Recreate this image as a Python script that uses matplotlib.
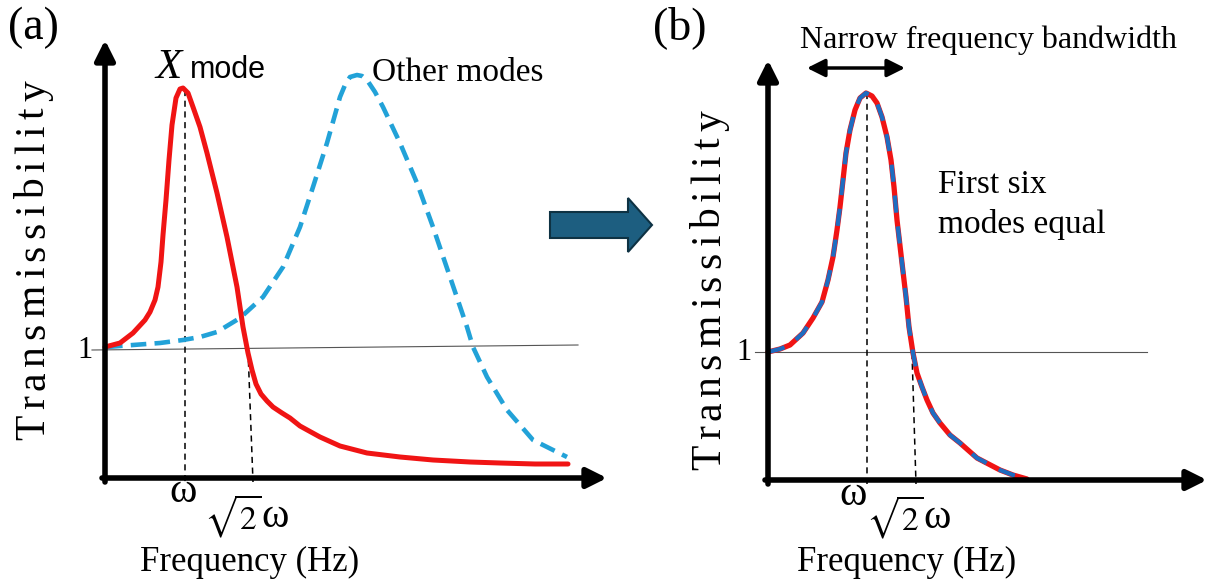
import numpy as np
import matplotlib.pyplot as plt
from matplotlib.patches import FancyArrow
from matplotlib.font_manager import FontProperties
from matplotlib.textpath import TextToPath

plt.rcParams['font.family'] = 'Liberation Serif'
plt.rcParams['mathtext.fontset'] = 'stix'

# panel (a): response of the single X mode and of the other modes
xa_mode = [105, 120, 133, 145, 150, 155, 158, 161, 163, 166, 169, 172, 176, 180, 183, 188,
           193, 200, 207, 217, 227, 237, 243, 248, 252, 256, 261, 267, 273, 282, 290, 300,
           320, 340, 367, 400, 433, 470, 500, 535, 568]
ya_mode = [347, 343, 333, 320, 312, 300, 287, 262, 235, 200, 160, 125, 98, 89, 88, 93,
           107, 127, 153, 193, 237, 287, 327, 353, 370, 384, 394, 401, 407, 413, 418, 426,
           437, 446, 453, 457, 460, 462, 463, 464, 464]

xa_other = [107, 133, 160, 183, 200, 217, 240, 263, 283, 300, 313, 327, 340, 345, 350, 357,
            362, 367, 375, 383, 400, 417, 433, 450, 467, 473, 487, 507, 533, 567]
ya_other = [347, 345, 343, 340, 337, 332, 318, 297, 267, 227, 187, 143, 97, 85, 77, 75,
            76, 80, 92, 107, 143, 183, 227, 277, 327, 347, 377, 410, 440, 457]

# panel (b): first six modes lying on one curve
xb = [768, 780, 790, 803, 813, 822, 828, 833, 837, 840, 843, 846, 850, 855, 860, 866, 872,
      877, 882, 887, 891, 894, 897, 902, 906, 909, 913, 917, 922, 927, 933, 940, 950, 960,
      977, 1000, 1013, 1027]
yb = [352, 349, 345, 333, 318, 302, 280, 257, 230, 207, 180, 153, 130, 110, 98, 93, 96,
      103, 117, 137, 160, 187, 220, 263, 297, 327, 353, 373, 387, 400, 413, 423, 435, 443,
      458, 470, 475, 479]

RED = '#f01414'
SKY = '#22a2d8'
BLUE = '#1f6cc0'

fig = plt.figure(figsize=(12.22, 5.87), dpi=100)
ax = fig.add_axes([0, 0, 1, 1])
ax.set_xlim(0, 1222)
ax.set_ylim(587, 0)
ax.axis('off')


def axis_arrow(x0, y0, x1, y1):
    ax.annotate('', xy=(x1, y1), xytext=(x0, y0),
                arrowprops=dict(arrowstyle='-|>,head_length=0.6,head_width=0.3',
                                lw=4, color='black', shrinkA=0, shrinkB=0,
                                mutation_scale=20))


def spaced_label(text, x, y, size, gap):
    # vertical label with extra letter spacing, reading bottom to top
    prop = FontProperties(family='Liberation Serif', size=size)
    ttp = TextToPath()
    for i, ch in enumerate(text):
        w = ttp.get_text_width_height_descent(text[:i], prop, ismath=False)[0] if i else 0
        off = w * 100 / 72 + i * gap
        ax.text(x, y - off, ch, fontproperties=prop, rotation=90,
                rotation_mode='anchor', ha='left', va='baseline')


def root2_omega(x, y):
    ax.text(x, y, r'$\sqrt{2}$', fontsize=24, va='center', ha='right')
    ax.text(x - 1, y + 1, '\u03c9', fontsize=30, va='center', ha='left')


# ---- panel (a)
axis_arrow(105, 482, 105, 40)
axis_arrow(102, 478, 607, 478)
ax.plot([92, 578], [350, 345], color='#555555', lw=0.8)
ax.plot([185, 185], [90, 482], color='black', lw=1.1, ls=(0, (4, 3)))
ax.plot([248, 253], [350, 482], color='black', lw=1.1, ls=(0, (4, 3)))
ax.plot(xa_other, ya_other, color=SKY, lw=3.3, ls=(0, (3.4, 1.8)))
ax.plot(xa_mode, ya_mode, color=RED, lw=3.6, solid_joinstyle='round', solid_capstyle='round')

ax.text(8, 28, '(a)', fontsize=33, va='center', ha='left')
ax.text(85, 350, '1', fontsize=22, va='center', ha='center')
ax.text(155, 78, 'X', fontsize=31, fontstyle='italic', va='baseline', ha='left')
ax.text(190, 78, 'mode', fontsize=22, family='Liberation Sans', va='baseline', ha='left')
ax.text(372, 81, 'Other modes', fontsize=24, va='baseline', ha='left')
ax.text(183, 492, '\u03c9', fontsize=30, va='center', ha='center')
root2_omega(262, 516)
ax.text(250, 562, 'Frequency (Hz)', fontsize=25, va='center', ha='center')
spaced_label('Transmissibility', 44, 440, 30, 6)

# transition arrow
ax.add_patch(FancyArrow(550, 225, 102, 0, width=26, head_width=54, head_length=24,
                        length_includes_head=True, fc='#1d5e80', ec='#0e3243', lw=1.5))

# ---- panel (b)
axis_arrow(768, 484, 768, 60)
axis_arrow(765, 480, 1207, 480)
ax.plot([755, 1147], [352, 352], color='#555555', lw=0.8)
ax.plot([867, 867], [93, 484], color='black', lw=1.1, ls=(0, (4, 3)))
ax.plot([912, 916], [353, 484], color='black', lw=1.1, ls=(0, (4, 3)))
ax.plot(xb, yb, color=RED, lw=3.8, solid_joinstyle='round', solid_capstyle='round')
ax.plot(xb, yb, color=BLUE, lw=3.1, ls=(0, (4, 3.2)))

ax.annotate('', xy=(905, 68), xytext=(807, 68),
            arrowprops=dict(arrowstyle='<|-|>,head_length=0.6,head_width=0.3',
                            lw=2.5, color='black', shrinkA=0, shrinkB=0,
                            mutation_scale=18))
ax.text(653, 28, '(b)', fontsize=33, va='center', ha='left')
ax.text(744, 352, '1', fontsize=22, va='center', ha='center')
ax.text(988, 40, 'Narrow frequency bandwidth', fontsize=23, va='center', ha='center')
ax.text(938, 185, 'First six', fontsize=24, va='center', ha='left')
ax.text(938, 225, 'modes equal', fontsize=24, va='center', ha='left')
ax.text(853, 495, '\u03c9', fontsize=30, va='center', ha='center')
root2_omega(924, 517)
ax.text(907, 562, 'Frequency (Hz)', fontsize=25, va='center', ha='center')
spaced_label('Transmissibility', 720, 470, 30, 6)

fig.savefig('out.png', dpi=100)
